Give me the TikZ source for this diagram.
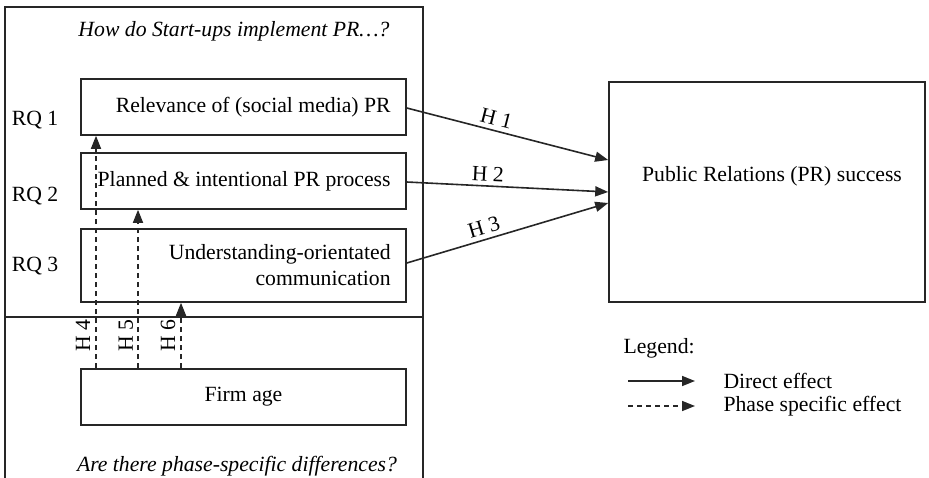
\documentclass[tikz,border=0pt]{standalone}
\usepackage{fontspec}
\setmainfont{Liberation Serif}
\usetikzlibrary{arrows.meta}
\begin{document}
\begin{tikzpicture}[x=1pt,y=-1pt,
  every node/.style={font=\fontsize{21.7}{26}\selectfont},
  frame/.style={line width=1.6pt, draw=black!85},
  rqbox/.style={draw=black!85, line width=1.6pt, rectangle, minimum width=325pt,
    minimum height=56pt, inner sep=0pt},
  boxtext/.style={anchor=east, align=right, inner sep=0pt},
  direct/.style={line width=1.6pt, draw=black!85, -{Triangle[length=13pt,width=10pt]}},
  phase/.style={line width=1.6pt, draw=black!85, dash pattern=on 5pt off 4pt,
    -{Triangle[length=13pt,width=10pt]}},
  hlab/.style={inner sep=1pt},
  elab/.style={inner sep=4pt}]
  \useasboundingbox (0,0) rectangle (929,477);
  \clip (0,0) rectangle (929,477);

  % left panel frame and divider
  \draw[frame] (5,495) -- (5,7) -- (423,7) -- (423,495);
  \draw[frame] (5,317) -- (423,317);

  % panel questions
  \node[font=\fontsize{21.7}{26}\selectfont\itshape] (q1) at (234,31) {How do Start-ups implement PR…?};
  \node[font=\fontsize{21.7}{26}\selectfont\itshape, anchor=base] (q2) at (237,471) {Are there phase-specific differences?};

  % research question boxes
  \node[rqbox] (rq1) at (243.5,107) {};
  \node[rqbox] (rq2) at (243.5,181) {};
  \node[rqbox, minimum height=73pt] (rq3) at (243.5,265.5) {};
  \node[rqbox] (firm) at (243.5,397) {Firm age};
  \node[boxtext] (t1) at ([xshift=-16pt]rq1.east) {Relevance of (social media) PR};
  \node[boxtext] (t2) at ([xshift=-16pt]rq2.east) {Planned \& intentional PR process};
  \node[boxtext] (t3) at ([xshift=-16pt]rq3.east) {Understanding-orientated\\communication};

  \node (r1) at (35,120) {RQ 1};
  \node (r2) at (35,196) {RQ 2};
  \node (r3) at (35,266) {RQ 3};

  % outcome box
  \node[draw=black!85, line width=1.6pt, minimum width=316pt, minimum height=220pt,
    inner sep=0pt] (pr) at (767,192) {};
  \node (prt) at (772,176) {Public Relations (PR) success};

  % direct effects
  \draw[direct] (rq1.east |- 0,108) -- node[elab, pos=0.43, above, sloped] {H 1} (pr.west |- 0,160);
  \draw[direct] (rq2.east |- 0,182) -- node[elab, pos=0.4, above, sloped] {H 2} (pr.west |- 0,192);
  \draw[direct] (rq3.east |- 0,263) -- node[elab, pos=0.4, above, sloped] {H 3} (pr.west |- 0,203);

  % phase specific effects
  \coordinate (x4) at (96,0);
  \coordinate (x5) at (138,0);
  \coordinate (x6) at (181,0);
  \draw[phase] (firm.north -| x4) -- (rq1.south -| x4);
  \draw[phase] (firm.north -| x5) -- (rq2.south -| x5);
  \draw[phase] (firm.north -| x6) -- (rq3.south -| x6);
  \node[hlab, rotate=90] (h4) at (83,336) {H 4};
  \node[hlab, rotate=90] (h5) at (126,336) {H 5};
  \node[hlab, rotate=90] (h6) at (168,336) {H 6};

  % legend
  \node[anchor=west] (leg) at (620,348) {Legend:};
  \coordinate (l1a) at (628,381);
  \coordinate (l1b) at (695,381);
  \coordinate (l2a) at (628,406);
  \coordinate (l2b) at (695,406);
  \draw[direct] (l1a) -- (l1b);
  \draw[phase] (l2a) -- (l2b);
  \node[anchor=west] (d1) at (720,381) {Direct effect};
  \node[anchor=west] (d2) at (720,406) {Phase specific effect};
\end{tikzpicture}
\end{document}
